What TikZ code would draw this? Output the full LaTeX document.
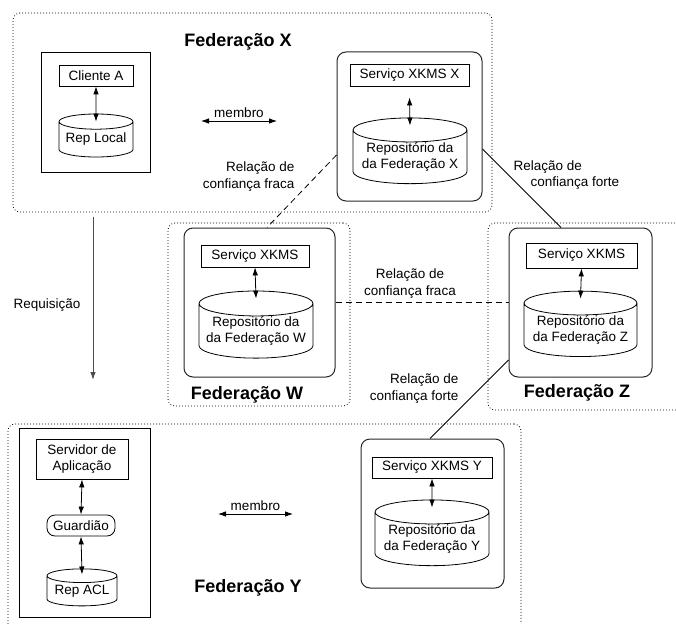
\documentclass[tikz,border=0pt]{standalone}
\usepackage{fontspec}
\setmainfont{Liberation Sans}
\usetikzlibrary{shapes.geometric,arrows.meta}

\tikzset{
  federacao/.style={draw, line width=0.8pt, dash pattern=on 0.8pt off 2.2pt, rounded corners=7pt},
  grupo/.style={draw, black!85, line width=1pt, rounded corners=9pt},
  caixa/.style={draw, line width=0.8pt, inner sep=0pt, align=center},
  banco/.style={draw, line width=0.8pt, cylinder, shape border rotate=90, aspect=0.25, inner sep=0pt, align=center},
  titulo/.style={font=\fontsize{18}{20}\selectfont\bfseries},
  liga/.style={<->, line width=0.8pt},
  fraca/.style={line width=0.8pt, dash pattern=on 6pt off 4pt},
  forte/.style={line width=0.8pt},
}

\begin{document}
\begin{tikzpicture}[x=1pt, y=-1pt, >={Latex[length=8pt,width=5.5pt]},
  font=\fontsize{13.5}{16.5}\selectfont]
\useasboundingbox (0,0) rectangle (676,623);

% federacoes (regioes pontilhadas)
\node[federacao, minimum width=479pt, minimum height=199pt] (fedX) at (252.5,112.5) {};
\node[federacao, minimum width=182pt, minimum height=183pt] (fedW) at (259,314.5) {};
\node[federacao, minimum width=230pt, minimum height=187pt] (fedZ) at (603,316.5) {};
\node[federacao, minimum width=513pt, minimum height=230pt] (fedY) at (264.5,539) {};

\node[titulo] (tX) at (238,42) {Federação X};
\node[titulo] (tW) at (247,395) {Federação W};
\node[titulo] (tZ) at (577,393) {Federação Z};
\node[titulo] (tY) at (248,588) {Federação Y};

% Federacao X: cliente
\node[draw, line width=0.9pt, minimum width=109pt, minimum height=120pt] (boxA) at (95.5,112) {};
\node[caixa, minimum width=74pt, minimum height=21pt] (cliente) at (96,75.5) {Cliente A};
\node[banco, minimum width=74pt, minimum height=43pt] (repLocal) at (96,139.5) {Rep Local};
\draw[liga] (cliente.south) -- ([yshift=-8pt]repLocal.north);

\coordinate (mX1) at (201,121);
\coordinate (mX2) at (277,121);
\draw[liga] (mX1) -- node[above] {membro} (mX2);

% Federacao X: servico
\node[grupo, minimum width=145pt, minimum height=149pt] (gX) at (409.5,126.5) {};
\node[caixa, minimum width=119pt, minimum height=22pt] (svcX) at (409.5,75) {Serviço XKMS X};
\node[banco, minimum width=114pt, minimum height=63pt] (repX) at (410,157) {Repositório da\\da Federação X};
\draw[liga] ([yshift=-11pt]svcX.south) -- ([yshift=-8pt]repX.north);

% Federacao W
\node[grupo, minimum width=151pt, minimum height=149pt] (gW) at (259.5,302.5) {};
\node[caixa, minimum width=108pt, minimum height=22pt] (svcW) at (255,256) {Serviço XKMS};
\node[banco, minimum width=114pt, minimum height=61pt] (repW) at (256,331) {Repositório da\\da Federação W};
\draw[liga] (svcW.south) -- ([yshift=-8pt]repW.north);

% Federacao Z
\node[grupo, minimum width=143pt, minimum height=149pt] (gZ) at (580.5,302.5) {};
\node[caixa, minimum width=111pt, minimum height=25pt] (svcZ) at (581.5,255.5) {Serviço XKMS};
\node[banco, minimum width=113pt, minimum height=63pt] (repZ) at (580.5,330) {Repositório da\\da Federação Z};
\draw[liga] (svcZ.south) -- ([yshift=-8pt]repZ.north);

% Federacao Y: servidor
\node[draw, line width=0.9pt, minimum width=131pt, minimum height=189pt] (boxApp) at (84.5,522.5) {};
\node[caixa, minimum width=92pt, minimum height=40pt] (servidor) at (82,459) {Servidor de\\Aplicação};
\node[caixa, rounded corners=8pt, minimum width=68pt, minimum height=21pt] (guardiao) at (81,525.5) {Guardião};
\node[banco, minimum width=70pt, minimum height=37pt] (repACL) at (82,591) {Rep ACL};
\draw[liga] (servidor.south) -- (guardiao.north);
\draw[liga] (guardiao.south) -- ([yshift=-6pt]repACL.north);

\coordinate (mY1) at (218,514);
\coordinate (mY2) at (293,514);
\draw[liga] (mY1) -- node[above] {membro} (mY2);

% Federacao Y: servico
\node[grupo, minimum width=143pt, minimum height=149pt] (gY) at (432.5,513.5) {};
\node[caixa, minimum width=120pt, minimum height=21pt] (svcY) at (432,467.5) {Serviço XKMS Y};
\node[banco, minimum width=114pt, minimum height=65pt] (repY) at (432,539) {Repositório da\\da Federação Y};
\draw[liga] (svcY.south) -- ([yshift=-8pt]repY.north);

% requisicao
\coordinate (rq1) at (93,217);
\coordinate (rq2) at (93,380);
\draw[->, black!70, line width=1pt] (rq1) -- (rq2);
\node (lbRq) at (47,305) {Requisição};

% relacoes de confianca
\draw[fraca] ([yshift=-28.5pt]gX.west) -- ([xshift=7.5pt]gW.north);
\node[anchor=east, align=right] (lbXW) at (298,176.5) {Relação de\\confiança fraca};

\draw[forte] ([yshift=-22.5pt]gX.east) -- ([xshift=-19.5pt]gZ.north);
\node[anchor=west, align=left] (lbXZ) at (510,175) {Relação de\\\hspace*{17pt}confiança forte};

\draw[fraca] (gW.east) -- (gZ.west);
\node[align=center] (lbWZ) at (410,283.5) {Relação de\\confiança fraca};

\draw[forte] ([yshift=-57.5pt]gZ.west) -- ([xshift=-2.5pt]gY.north);
\node[anchor=east, align=right] (lbZY) at (462,388.5) {Relação de\\confiança forte};
\end{tikzpicture}
\end{document}
